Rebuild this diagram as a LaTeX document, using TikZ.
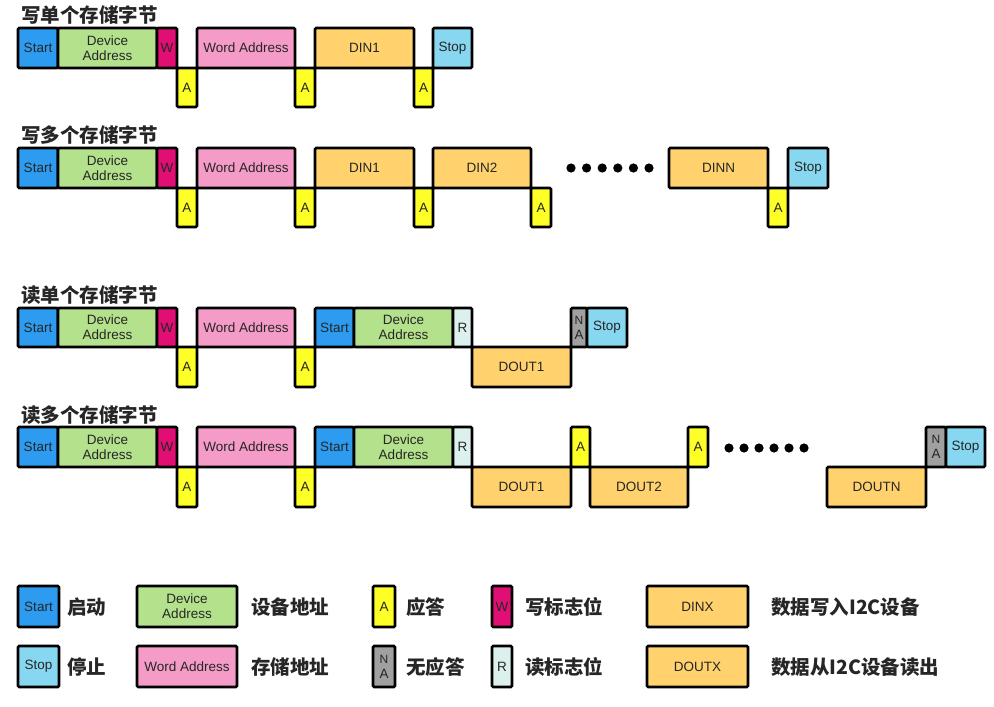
\documentclass[tikz,border=0pt]{standalone}
\usepackage{fontspec}
\setmainfont{Liberation Sans}
\newfontfamily\cjk{Noto Sans CJK SC}
\definecolor{startc}{RGB}{45,155,240}
\definecolor{devc}{RGB}{180,225,140}
\definecolor{wc}{RGB}{225,15,115}
\definecolor{wac}{RGB}{245,155,200}
\definecolor{ac}{RGB}{255,255,40}
\definecolor{dinc}{RGB}{255,210,110}
\definecolor{stopc}{RGB}{135,215,240}
\definecolor{rc}{RGB}{220,240,238}
\definecolor{nac}{RGB}{160,160,160}
\newcommand\blk[7]{\node[blk,fill=#2,minimum width={(#5)-(#3)},minimum height={(#6)-(#4)}] (#1) at ({((#3)+(#5))/2},{((#4)+(#6))/2}) {#7};}
\begin{document}
\begin{tikzpicture}[x=1pt,y=-1pt,
  blk/.style={draw=black,line width=2.7pt,rounded corners=1.2pt,inner sep=0pt,outer sep=0pt,
    font=\fontsize{13.5}{15}\selectfont,text=black!85,align=center},
  ttl/.style={anchor=west,inner sep=0pt,font=\cjk\bfseries\fontsize{19.5}{20}\selectfont,text=black!85},
  lt/.style={anchor=west,inner sep=0pt,font=\cjk\bfseries\fontsize{19.5}{20}\selectfont,text=black!85},
  dotc/.style={fill=black}]
\useasboundingbox[fill=white] (0,0) rectangle (994,707);
% ---------- Row 1 ----------
\node[ttl] (t1) at (21,15) {写单个存储字节};
\blk{a-s}{startc}{18}{28}{58}{68}{Start}
\blk{a-d}{devc}{58}{28}{157}{68}{Device\\Address}
\blk{a-w}{wc}{157}{28}{177}{68}{W}
\blk{a-a1}{ac}{177}{68}{197}{107}{A}
\blk{a-wa}{wac}{197}{28}{295}{68}{Word Address}
\blk{a-a2}{ac}{295}{68}{315}{107}{A}
\blk{a-d1}{dinc}{315}{28}{414}{68}{DIN1}
\blk{a-a3}{ac}{414}{68}{433}{107}{A}
\blk{a-p}{stopc}{433}{28}{472}{68}{Stop}
% ---------- Row 2 ----------
\node[ttl] (t2) at (21,135) {写多个存储字节};
\blk{b-s}{startc}{18}{148}{58}{188}{Start}
\blk{b-d}{devc}{58}{148}{157}{188}{Device\\Address}
\blk{b-w}{wc}{157}{148}{177}{188}{W}
\blk{b-a1}{ac}{177}{188}{197}{227}{A}
\blk{b-wa}{wac}{197}{148}{295}{188}{Word Address}
\blk{b-a2}{ac}{295}{188}{315}{227}{A}
\blk{b-d1}{dinc}{315}{148}{414}{188}{DIN1}
\blk{b-a3}{ac}{414}{188}{433}{227}{A}
\blk{b-d2}{dinc}{433}{148}{531}{188}{DIN2}
\blk{b-a4}{ac}{531}{188}{551}{227}{A}
\foreach \i in {0,...,5} \fill[dotc] ({571+15.6*\i},168) circle (4.6pt);
\blk{b-dn}{dinc}{669}{148}{768}{188}{DINN}
\blk{b-a5}{ac}{768}{188}{788}{227}{A}
\blk{b-p}{stopc}{788}{148}{828}{188}{Stop}
% ---------- Row 3 ----------
\node[ttl] (t3) at (21,295) {读单个存储字节};
\blk{c-s}{startc}{18}{308}{58}{347}{Start}
\blk{c-d}{devc}{58}{308}{157}{347}{Device\\Address}
\blk{c-w}{wc}{157}{308}{177}{347}{W}
\blk{c-a1}{ac}{177}{347}{197}{387}{A}
\blk{c-wa}{wac}{197}{308}{295}{347}{Word Address}
\blk{c-a2}{ac}{295}{347}{315}{387}{A}
\blk{c-s2}{startc}{315}{308}{354}{347}{Start}
\blk{c-d2}{devc}{354}{308}{453}{347}{Device\\Address}
\blk{c-r}{rc}{453}{308}{472}{347}{R}
\blk{c-o1}{dinc}{472}{347}{571}{387}{DOUT1}
\blk{c-na}{nac}{571}{308}{587}{347}{\fontsize{12}{14}\selectfont N\\A}
\blk{c-p}{stopc}{587}{308}{627}{347}{Stop}
% ---------- Row 4 ----------
\node[ttl] (t4) at (21,415) {读多个存储字节};
\blk{d-s}{startc}{18}{427}{58}{467}{Start}
\blk{d-d}{devc}{58}{427}{157}{467}{Device\\Address}
\blk{d-w}{wc}{157}{427}{177}{467}{W}
\blk{d-a1}{ac}{177}{467}{197}{507}{A}
\blk{d-wa}{wac}{197}{427}{295}{467}{Word Address}
\blk{d-a2}{ac}{295}{467}{315}{507}{A}
\blk{d-s2}{startc}{315}{427}{354}{467}{Start}
\blk{d-d2}{devc}{354}{427}{453}{467}{Device\\Address}
\blk{d-r}{rc}{453}{427}{472}{467}{R}
\blk{d-o1}{dinc}{472}{467}{571}{507}{DOUT1}
\blk{d-a3}{ac}{571}{427}{590}{467}{A}
\blk{d-o2}{dinc}{590}{467}{688}{507}{DOUT2}
\blk{d-a4}{ac}{688}{427}{708}{467}{A}
\foreach \i in {0,...,5} \fill[dotc] ({729+15*\i},448) circle (4.6pt);
\blk{d-on}{dinc}{827}{467}{926}{507}{DOUTN}
\blk{d-na}{nac}{926}{427}{946}{467}{\fontsize{12}{14}\selectfont N\\A}
\blk{d-p}{stopc}{946}{427}{985}{467}{Stop}
% ---------- Legend ----------
\blk{l-s}{startc}{18}{586}{59}{627}{Start}
\node[lt] (l-st) at (67,607) {启动};
\blk{l-d}{devc}{137}{586}{237}{627}{Device\\Address}
\node[lt] (l-dt) at (251,607) {设备地址};
\blk{l-a}{ac}{373}{586}{395}{627}{A}
\node[lt] (l-at) at (406,607) {应答};
\blk{l-w}{wc}{492}{586}{512}{627}{W}
\node[lt] (l-wt) at (525,607) {写标志位};
\blk{l-din}{dinc}{647}{586}{748}{627}{DINX}
\node[lt] (l-dint) at (771,607) {数据写入I2C设备};
\blk{l-p}{stopc}{18}{646}{59}{687}{Stop}
\node[lt] (l-pt) at (67,667) {停止};
\blk{l-wa}{wac}{137}{646}{237}{687}{Word Address}
\node[lt] (l-wat) at (251,667) {存储地址};
\blk{l-na}{nac}{373}{646}{395}{687}{\fontsize{12}{14}\selectfont N\\A}
\node[lt] (l-nat) at (406,667) {无应答};
\blk{l-r}{rc}{492}{646}{512}{687}{R}
\node[lt] (l-rt) at (525,667) {读标志位};
\blk{l-dout}{dinc}{647}{646}{748}{687}{DOUTX}
\node[lt] (l-doutt) at (771,667) {数据从I2C设备读出};
\end{tikzpicture}
\end{document}
